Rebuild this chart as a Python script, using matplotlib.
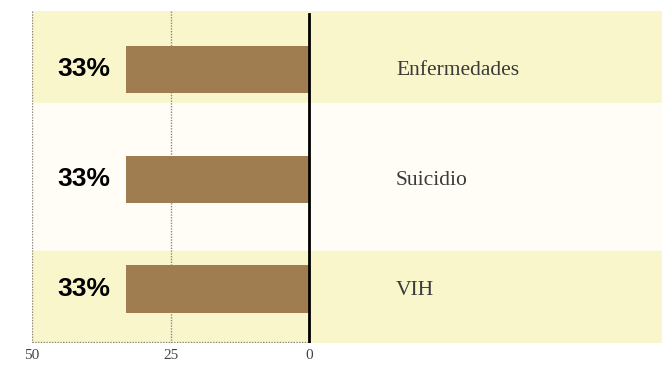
import matplotlib.pyplot as plt
import numpy as np

# data
categories = ['Enfermedades', 'Suicidio', 'VIH']
values = [33, 33, 33]
value_labels = ['33%', '33%', '33%']
ticks = [50, 25, 0]

fig = plt.figure(figsize=(6.62, 3.65), dpi=100)
ax = fig.add_axes([32 / 662, 22 / 365, 630 / 662, 332 / 365])

y = np.arange(len(categories))

# background bands (odd offsets, as in the original)
ax.axhspan(-0.53, 0.305, color='#faf6cc', zorder=0)
ax.axhspan(0.305, 1.65, color='#fffdf6', zorder=0)
ax.axhspan(1.65, 2.49, color='#faf6cc', zorder=0)

ax.barh(y, values, height=0.43, color='#a07d50', zorder=2)

# grid lines
for t in [50, 25]:
    ax.axvline(t, color='#888888', linestyle=(0, (1, 1)), linewidth=1, zorder=1)
ax.plot([50, 0], [2.485, 2.485], color='#888888', linestyle=(0, (1, 1)), linewidth=1, zorder=1)
ax.plot([0, 0], [-0.5, 2.49], color='black', linewidth=2, zorder=3)

for yi, lab, cat in zip(y, value_labels, categories):
    ax.text(35.9, yi, lab, ha='right', va='center', fontsize=19, fontweight='bold',
            family='Liberation Sans', color='black', zorder=4)
    ax.text(-15.7, yi + 0.015, cat, ha='left', va='center', fontsize=15.5,
            family='Liberation Serif', color='#3a3a3a', zorder=4)

ax.set_xlim(50, -63.7)
ax.set_ylim(2.49, -0.53)
ax.set_xticks(ticks)
ax.set_xticklabels([str(t) for t in ticks], family='Liberation Serif', fontsize=11, color='#444444')
ax.tick_params(axis='x', length=0, pad=4)
ax.set_yticks([])
for s in ax.spines.values():
    s.set_visible(False)

fig.savefig('out.png', dpi=100)
